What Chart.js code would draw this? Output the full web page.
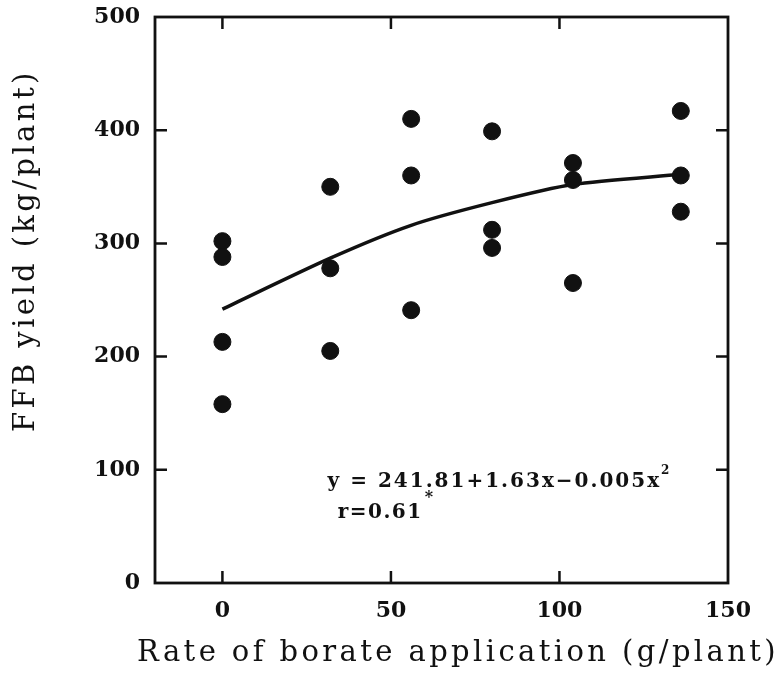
<!DOCTYPE html>
<html>
<head>
<meta charset="utf-8">
<script src="https://cdn.jsdelivr.net/npm/chart.js@4.4.1/dist/chart.umd.min.js"></script>
<style>
  html, body { margin: 0; padding: 0; background: #fff; }
  #wrap { width: 776px; height: 673px; }
</style>
</head>
<body>
<div id="wrap"><canvas id="yieldChart" width="776" height="673"></canvas></div>
<script>
// borate rate (g/plant) and FFB yield (kg/plant) for each plot
const rateObs = [0, 0, 0, 0, 32, 32, 32, 56, 56, 56, 80, 80, 80, 104, 104, 104, 136, 136, 136];
const yieldObs = [302, 288, 213, 158, 350, 278, 205, 410, 360, 241, 399, 312, 296, 371, 356, 265, 417, 360, 328];

// fitted quadratic response
const rateFit = [0, 32, 56, 80, 104, 136];
const yieldFit = [242, 287, 316, 336, 352, 361];

const xTicks = [0, 50, 100, 150];
const yTicks = [0, 100, 200, 300, 400, 500];

const equationText = "y = 241.81+1.63x\u22120.005x";
const rText = "r=0.61";

const ink = "#111";
const titleFont = '29px "DejaVu Serif"';

// frame, inward tick marks, axis titles and the regression note
const framePlugin = {
  id: "frame",
  afterDraw(chart) {
    const { ctx, chartArea: a, scales } = chart;
    const xs = scales.x, ys = scales.y;
    ctx.save();
    ctx.strokeStyle = ink;
    ctx.lineWidth = 2.8;
    ctx.strokeRect(a.left, a.top, a.right - a.left, a.bottom - a.top);

    ctx.lineWidth = 2.5;
    const tl = 12;
    xTicks.forEach(v => {
      if (v <= xs.min || v >= xs.max) return;
      const px = xs.getPixelForValue(v);
      ctx.beginPath();
      ctx.moveTo(px, a.bottom); ctx.lineTo(px, a.bottom - tl);
      ctx.moveTo(px, a.top); ctx.lineTo(px, a.top + tl);
      ctx.stroke();
    });
    yTicks.forEach(v => {
      if (v <= ys.min || v >= ys.max) return;
      const py = ys.getPixelForValue(v);
      ctx.beginPath();
      ctx.moveTo(a.left, py); ctx.lineTo(a.left + tl, py);
      ctx.moveTo(a.right, py); ctx.lineTo(a.right - tl, py);
      ctx.stroke();
    });

    // axis titles
    ctx.fillStyle = ink;
    ctx.font = titleFont;
    ctx.letterSpacing = "3.4px";
    ctx.textBaseline = "alphabetic";
    ctx.textAlign = "left";
    ctx.fillText("Rate of borate application (g/plant)", 137, 661);

    ctx.save();
    ctx.translate(34, 432);
    ctx.rotate(-Math.PI / 2);
    ctx.fillText("FFB yield (kg/plant)", 0, 0);
    ctx.restore();

    // regression note
    ctx.textBaseline = "middle";
    ctx.letterSpacing = "2px";
    ctx.font = 'bold 20px "DejaVu Serif"';
    const ex = xs.getPixelForValue(31.2), ey = ys.getPixelForValue(89.5);
    ctx.fillText(equationText, ex, ey);
    const ew = ctx.measureText(equationText).width;
    ctx.font = 'bold 12px "DejaVu Serif"';
    ctx.fillText("2", ex + ew, ey - 11);

    ctx.letterSpacing = "1.5px";
    ctx.font = 'bold 20px "DejaVu Serif"';
    const rx = xs.getPixelForValue(34.2), ry = ys.getPixelForValue(61.8);
    ctx.fillText(rText, rx, ry);
    const rw = ctx.measureText(rText).width;
    ctx.font = 'bold 16px "DejaVu Serif"';
    ctx.fillText("*", rx + rw + 2, ry - 15);
    ctx.restore();
  }
};

new Chart(document.getElementById("yieldChart"), {
  type: "scatter",
  data: {
    datasets: [
      {
        label: "Observed",
        data: rateObs.map((r, i) => ({ x: r, y: yieldObs[i] })),
        backgroundColor: ink,
        borderColor: ink,
        pointRadius: 8.5,
        pointHoverRadius: 8.5,
        order: 1
      },
      {
        label: "Fitted",
        type: "line",
        data: rateFit.map((r, i) => ({ x: r, y: yieldFit[i] })),
        borderColor: ink,
        borderWidth: 3.5,
        pointRadius: 0,
        tension: 0.25,
        fill: false,
        order: 2
      }
    ]
  },
  options: {
    responsive: false,
    animation: false,
    events: [],
    layout: { padding: { left: 0, top: 17, right: 48, bottom: 0 } },
    plugins: {
      legend: { display: false },
      tooltip: { enabled: false }
    },
    scales: {
      x: {
        type: "linear",
        min: -20,
        max: 150,
        afterBuildTicks: scale => { scale.ticks = xTicks.map(v => ({ value: v })); },
        afterFit: scale => { scale.height = 90; scale.paddingLeft = 0; scale.paddingRight = 0; },
        grid: { display: false, drawTicks: false },
        border: { display: false },
        ticks: {
          color: ink,
          padding: 15,
          maxRotation: 0,
          font: { family: "DejaVu Serif", size: 22, weight: "bold" }
        }
      },
      y: {
        type: "linear",
        min: 0,
        max: 500,
        afterBuildTicks: scale => { scale.ticks = yTicks.map(v => ({ value: v })); },
        afterFit: scale => { scale.width = 155; scale.paddingTop = 0; scale.paddingBottom = 0; },
        grid: { display: false, drawTicks: false },
        border: { display: false },
        ticks: {
          color: ink,
          padding: 15,
          font: { family: "DejaVu Serif", size: 22, weight: "bold" }
        }
      }
    }
  },
  plugins: [framePlugin]
});
</script>
</body>
</html>
